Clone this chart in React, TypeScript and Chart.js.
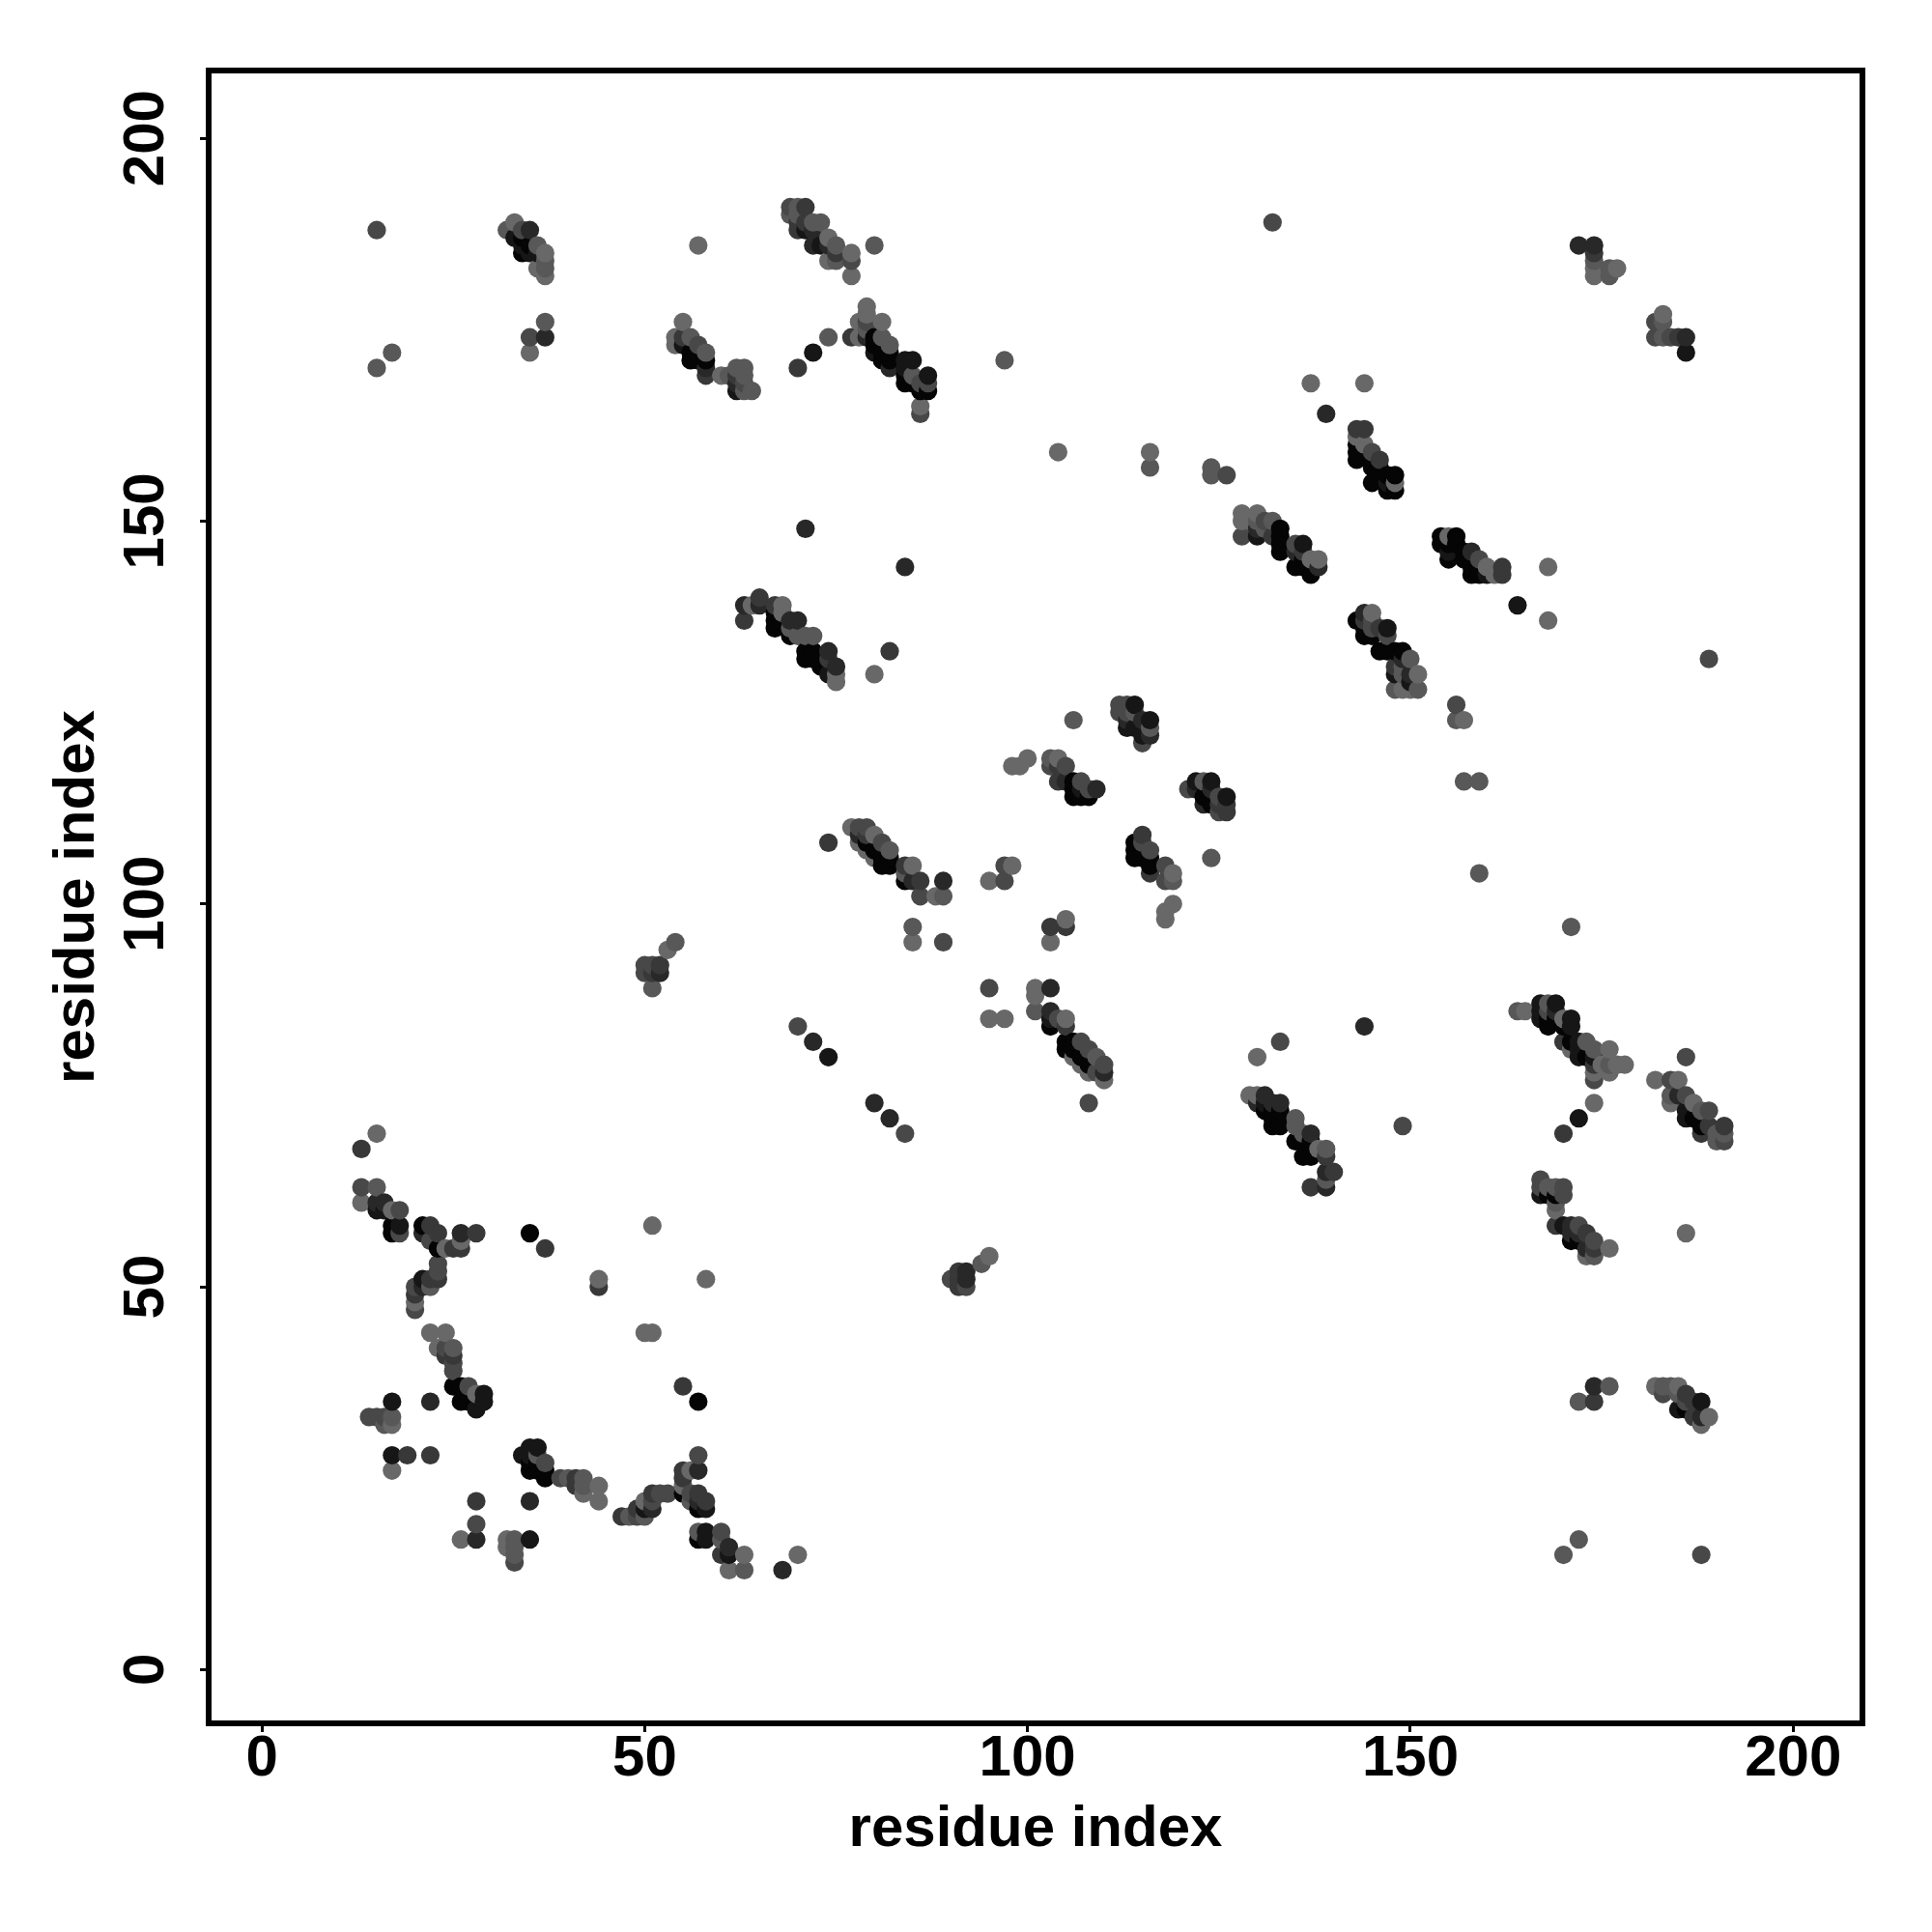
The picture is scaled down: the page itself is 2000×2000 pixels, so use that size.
import React, { useEffect, useRef } from "react";
import { Chart, registerables } from "chart.js";

Chart.register(...registerables);

type Contact = [number, number, number];

const axisTicks = [0, 50, 100, 150, 200];
const axisTitle = "residue index";
const shadeLevels = ["#050505", "#161616", "#282828", "#383838", "#484848", "#585858", "#686868"];

const lowerLeftA: Contact[] = [
  [13,68,3],[15,70,6],[13,63,4],[15,63,5],[13,61,6],[15,61,2],[16,61,2],[15,60,1],[16,60,1],[17,60,6],[18,60,4],
  [17,58,0],[18,58,1],[17,57,0],[18,57,4],[21,58,0],[22,58,3],[21,57,2],[23,57,3],[22,56,4],[23,55,0],[24,55,6],
  [25,55,3],[26,55,3],[26,56,6],[26,57,2],[28,57,3],[35,57,0],[37,55,3],[44,51,6],[44,50,3],[23,53,4],[23,52,4],
  [23,51,3],[22,51,3],[21,51,1],[22,50,5],[20,50,4],[21,50,2],[20,49,3],[20,48,6],[20,47,4],[22,44,6],[24,44,6],
  [23,42,6],[24,42,4],[25,42,5],[24,41,3],[25,41,3],[25,40,4],[25,39,4],[25,37,0],[26,37,0],[27,37,4],[27,36,0],
  [28,36,6],[29,36,1],[26,35,0],[27,35,0],[29,35,1],[28,34,1],[17,35,1],[22,35,2],[14,33,4],[15,33,4],[16,33,4],
  [17,33,5],[16,32,5],[17,32,6],[51,58,6],[58,51,6],[50,44,6],[51,44,6],
];
const lowerLeftB: Contact[] = [
  [17,28,1],[19,28,3],[22,28,3],[17,26,6],[28,22,3],[35,22,2],[28,19,4],[28,17,2],[26,17,6],[35,17,1],[32,17,6],
  [33,17,5],[32,16,6],[33,16,5],[33,15,5],[33,14,4],[34,28,1],[35,29,1],[36,29,1],[35,28,1],[36,28,5],[37,27,4],
  [35,27,0],[36,27,0],[35,26,0],[36,26,0],[37,26,0],[37,25,0],[39,25,4],[40,25,5],[41,25,3],[42,25,5],[41,24,3],
  [42,24,5],[42,23,6],[44,24,6],[44,22,6],[47,20,3],[48,20,5],[49,20,4],[50,20,5],[49,21,3],[50,21,1],[51,21,2],
  [50,22,6],[51,22,4],[51,23,3],[52,23,4],[53,23,4],[55,37,3],[57,35,0],[57,28,4],[55,26,3],[56,26,6],[57,26,2],
  [55,25,3],[55,24,6],[55,23,0],[56,23,4],[57,23,3],[56,22,5],[57,22,2],[58,22,3],[57,21,0],[58,21,1],[57,18,5],
  [58,18,1],[60,18,4],[57,17,0],[58,17,1],[60,17,5],[60,15,3],[61,16,2],[61,15,1],[63,15,6],[61,13,6],[63,13,5],
  [68,13,2],[70,15,6],
];
const midLeftPairs: Contact[] = [
  [50,92,4],[51,92,4],[52,92,3],[50,91,4],[51,91,3],[52,91,2],[51,89,5],[53,94,6],[54,95,5],
  [90,51,4],[91,52,3],[92,52,2],[91,51,3],[92,51,2],[91,50,3],[92,50,4],[94,53,5],[95,54,6],
  [70,84,4],[72,82,2],[74,80,1],[80,74,2],[82,72,2],[84,70,4],
];
const topLeft: Contact[] = [
  [15,188,4],[15,170,5],[17,172,5],[32,188,5],[33,189,6],[34,188,4],[35,188,2],[33,187,1],[34,187,0],[34,186,1],
  [34,185,0],[35,186,0],[35,185,1],[36,186,5],[37,185,6],[36,185,1],[37,184,5],[36,183,6],[37,183,5],[37,182,6],
  [37,176,5],[37,174,2],[35,174,4],[35,172,6],[57,186,6],[69,191,4],[70,191,5],[71,191,3],[69,190,5],[70,190,5],
  [70,189,3],[71,189,3],[72,189,5],[73,189,5],[70,188,3],[71,188,1],[72,188,2],[74,187,6],[72,186,2],[73,186,1],
  [74,186,2],[75,186,5],[74,184,6],[75,184,5],[75,185,3],[77,185,6],[77,184,4],[77,182,6],[80,186,5],
];
const topMiddle: Contact[] = [
  [55,176,6],[54,174,6],[54,173,6],[55,174,3],[56,174,5],[55,173,1],[57,173,4],[56,172,0],[58,172,5],[56,171,0],
  [57,171,0],[58,171,0],[58,170,2],[58,169,3],[60,169,6],[61,169,5],[62,170,5],[63,170,5],[62,169,3],[63,169,5],
  [62,168,2],[63,168,4],[62,167,1],[63,167,5],[64,167,5],[70,170,3],[72,172,1],[74,174,5],[77,174,3],[78,176,6],
  [78,174,6],[79,178,6],[79,177,6],[79,176,4],[79,175,5],[81,176,6],[79,174,2],[80,174,0],[81,174,5],[80,173,0],
  [82,173,5],[80,172,1],[81,172,0],[82,172,0],[81,171,0],[82,171,0],[82,170,2],[84,171,1],[85,171,1],[84,170,1],
  [84,169,0],[85,169,5],[84,168,0],[85,168,0],[87,169,1],[86,168,4],[87,168,4],[86,167,0],[87,167,0],[86,165,6],
  [86,164,4],[97,171,5],
];
const middleBand: Contact[] = [
  [63,139,2],[63,137,3],[64,139,6],[65,140,3],[65,139,2],[67,139,3],[68,139,6],[68,138,6],[67,138,0],[67,137,0],
  [67,136,0],[68,137,0],[69,137,2],[70,137,2],[69,136,5],[69,135,0],[70,135,5],[71,135,5],[72,135,5],[71,133,0],
  [71,132,0],[72,133,0],[72,132,0],[73,131,0],[74,133,2],[74,132,3],[74,130,1],[75,131,2],[75,130,6],[75,129,6],
  [82,133,3],[80,130,6],[84,144,2],[71,149,2],[74,108,3],[77,110,6],[78,110,4],[79,110,4],[78,109,2],[79,109,3],
  [80,109,6],[78,108,6],[79,108,0],[81,108,4],[79,107,6],[80,107,0],[82,107,5],[80,106,6],[81,106,0],[82,106,0],
  [81,105,0],[82,105,0],[84,105,3],[85,105,6],[84,104,5],[84,103,0],[85,103,2],[86,103,3],[89,103,2],[86,101,4],
  [88,101,6],[89,101,5],[85,97,5],[85,95,6],[89,95,4],[95,103,6],[97,103,4],[97,105,4],[98,105,6],[103,97,3],
  [105,97,3],[105,98,6],[103,95,6],[95,89,4],[101,89,6],[103,89,2],[101,88,6],[101,86,5],[95,85,6],[97,85,6],
];
const centerLower: Contact[] = [
  [103,86,2],[103,85,1],[103,84,0],[104,85,4],[105,85,6],[105,84,3],[105,82,0],[105,81,0],[106,82,0],[107,82,4],
  [106,81,0],[108,81,4],[106,80,6],[107,80,0],[109,80,5],[107,79,6],[108,79,0],[110,79,4],[108,78,6],[109,78,4],
  [110,78,2],[110,77,6],[108,74,4],[133,82,4],[130,80,6],[144,84,2],[129,75,6],[130,75,6],[131,75,2],[130,74,2],
  [131,74,1],[132,74,2],[133,74,2],[131,73,0],[132,73,0],[133,73,0],[132,72,0],[133,72,0],[132,71,0],[133,71,0],
  [135,72,5],[135,71,5],[135,69,0],[136,70,5],[137,70,2],[136,69,0],[137,69,0],[136,67,0],[137,67,0],[138,68,6],
  [139,68,5],[139,67,3],[139,65,2],[140,65,3],[139,64,5],[139,63,2],[137,63,3],[149,71,4],
];
const centerUpper: Contact[] = [
  [106,124,5],[112,126,4],[113,126,4],[114,126,1],[112,125,4],[113,125,4],[114,125,5],[113,124,2],[113,123,1],
  [114,123,1],[115,124,2],[116,124,1],[116,123,5],[115,122,1],[116,122,2],[115,121,4],[98,118,6],[99,118,6],
  [100,119,6],[103,119,5],[104,119,6],[103,118,4],[104,118,3],[105,118,4],[104,116,3],[105,116,2],[106,116,0],
  [107,116,4],[106,115,0],[107,115,1],[108,115,4],[109,115,2],[106,114,0],[107,114,0],[108,114,0],[121,115,4],
  [122,116,1],[123,116,5],[124,116,1],[122,115,2],[124,115,2],[123,114,0],[123,113,2],[124,113,0],[125,114,4],
  [126,114,1],[125,113,3],[126,113,3],[125,112,4],[126,112,3],[124,106,5],[115,109,3],[114,108,0],[115,108,4],
  [114,107,0],[116,107,4],[114,106,0],[115,106,0],[116,106,0],[116,105,0],[116,104,3],[118,105,4],[119,104,6],
  [118,103,4],[119,103,5],[119,100,6],[118,99,6],[118,98,6],
];
const upperRight: Contact[] = [
  [139,164,2],[137,168,6],[144,168,6],[126,156,4],[124,157,5],[124,156,5],[104,159,6],[116,159,6],[116,157,5],
  [143,162,3],[144,162,3],[143,161,6],[143,160,0],[144,160,6],[143,159,0],[144,159,0],[145,159,4],[143,158,0],
  [146,158,3],[145,157,0],[146,157,0],[146,156,0],[147,156,0],[148,156,0],[145,155,0],[147,155,1],[148,155,6],
  [147,154,0],[148,154,0],[128,151,6],[130,151,6],[128,150,6],[129,150,6],[130,150,5],[131,150,4],[132,150,5],
  [130,149,2],[131,149,5],[133,149,0],[128,148,4],[130,148,1],[132,148,3],[133,148,0],[133,147,0],[135,147,4],
  [136,147,1],[133,146,0],[135,146,2],[136,146,3],[136,145,0],[137,145,6],[138,145,6],[135,144,0],[136,144,0],
  [138,144,2],[137,143,0],[132,189,4],
];
const rightBandA: Contact[] = [
  [154,148,0],[155,148,6],[156,148,0],[154,147,0],[155,147,0],[156,147,0],[155,146,1],[157,146,0],[158,146,2],
  [155,145,0],[157,145,0],[159,145,4],[158,144,0],[159,144,0],[160,144,6],[162,144,3],[158,143,0],[159,143,0],
  [160,143,1],[161,143,6],[162,143,3],[164,139,1],[168,144,6],[168,137,6],[143,137,0],[144,138,2],[145,138,6],
  [144,137,3],[145,137,4],[144,136,0],[145,136,4],[146,136,3],[147,136,1],[144,135,0],[145,135,0],[147,135,4],
  [146,133,0],[147,133,0],[148,133,0],[149,133,0],[149,132,2],[150,132,5],[148,131,3],[149,131,5],[148,130,1],
  [149,130,5],[150,130,2],[151,130,6],[150,129,1],[148,128,5],[149,128,6],[150,128,6],[151,128,5],[156,126,4],
  [156,124,5],[157,124,6],[157,116,5],[159,116,5],[159,104,5],[189,132,4],[171,97,5],
];
const topRight: Contact[] = [
  [172,186,2],[174,186,2],[174,185,3],[174,184,5],[174,183,6],[174,182,6],[176,183,5],[177,183,6],[176,182,5],
  [182,176,4],[183,177,6],[183,176,5],[182,174,4],[183,174,5],[184,174,4],[185,174,3],[186,174,2],[186,172,1],
];
const lowerRightA: Contact[] = [
  [164,86,5],[165,86,6],[167,87,1],[168,87,5],[169,87,1],[167,86,1],[168,86,4],[169,86,2],[167,85,1],[168,85,0],
  [169,85,0],[170,85,6],[171,85,1],[168,84,0],[170,84,0],[171,84,1],[170,82,3],[171,82,0],[172,82,1],[173,82,5],
  [171,81,6],[172,81,1],[174,81,5],[176,81,6],[172,80,1],[173,80,0],[174,80,1],[174,79,3],[175,79,6],[176,79,5],
  [177,79,6],[178,79,6],[174,78,6],[176,78,6],[174,77,4],[174,74,6],[172,72,1],[170,70,3],[186,80,4],[182,77,6],
  [184,77,4],[185,77,6],[184,75,5],[185,75,2],[186,75,4],[184,74,6],[187,74,6],[186,73,1],[188,73,5],[189,73,4],
  [186,72,1],[187,72,0],[188,71,0],[189,71,3],[191,71,3],[188,70,3],[190,70,5],[191,70,5],[190,69,5],[191,69,4],
];
const lowerRightB: Contact[] = [
  [167,64,4],[167,63,4],[168,63,5],[169,63,5],[170,63,4],[167,62,1],[168,62,0],[169,62,0],[170,62,4],[169,61,5],
  [169,60,6],[169,58,3],[170,58,1],[171,58,2],[172,58,4],[171,57,2],[172,57,2],[173,57,3],[171,56,0],[172,56,0],
  [174,56,4],[173,55,2],[174,55,3],[176,55,6],[173,54,6],[174,54,5],[186,57,6],[174,37,2],[176,37,5],[172,35,5],
  [174,35,3],[170,15,5],[172,17,5],[188,15,4],[182,37,6],[183,37,5],[184,37,5],[185,37,6],[183,36,4],[185,36,5],
  [186,36,3],[185,34,1],[186,34,0],[186,35,4],[187,35,3],[188,35,1],[187,33,3],[188,33,2],[189,33,6],[188,32,6],
];

const contacts: Contact[] = [
  ...lowerLeftA, ...lowerLeftB, ...midLeftPairs, ...topLeft, ...topMiddle, ...middleBand, ...centerLower,
  ...centerUpper, ...upperRight, ...rightBandA, ...topRight, ...lowerRightA, ...lowerRightB,
].sort((a, b) => a[0] - b[0] || a[1] - b[1]);

export default function App() {
  const ref = useRef<HTMLCanvasElement>(null);
  useEffect(() => {
    const frame = {
      id: "frame",
      afterDraw(c: any) {
        const { left, top, right, bottom } = c.chartArea;
        const ctx = c.ctx;
        ctx.save();
        ctx.strokeStyle = "#000";
        ctx.lineWidth = 6;
        ctx.lineJoin = "miter";
        ctx.strokeRect(left, top, right - left, bottom - top);
        ctx.restore();
      },
    };
    const font = { family: "'Liberation Sans', Arial, sans-serif", weight: "bold" as const };
    const chart = new Chart(ref.current!, {
      type: "scatter",
      data: {
        datasets: [
          {
            data: contacts.map(([x, y]) => ({ x, y })),
            backgroundColor: contacts.map((p) => shadeLevels[p[2]]),
            borderWidth: 0,
            pointRadius: 9.6,
            pointHoverRadius: 9.6,
          },
        ],
      },
      options: {
        animation: false,
        responsive: false,
        layout: { padding: { left: 0, top: 73, right: 72, bottom: 0 } },
        plugins: { legend: { display: false }, tooltip: { enabled: false } },
        scales: {
          x: {
            type: "linear",
            min: -6.95,
            max: 209.05,
            afterBuildTicks: (s: any) => { s.ticks = axisTicks.map((value) => ({ value })); },
            afterFit: (s: any) => { s.height = 216; },
            grid: { drawOnChartArea: false, tickLength: 9, tickWidth: 3, tickColor: "#000" },
            border: { display: false },
            ticks: { color: "#000", padding: -7.5, maxRotation: 0, autoSkip: false, font: { ...font, size: 60 } },
            title: { display: true, text: axisTitle, color: "#000", padding: { top: 0, bottom: 69.5 }, font: { ...font, size: 60 } },
          },
          y: {
            type: "linear",
            min: -7.01,
            max: 208.84,
            afterBuildTicks: (s: any) => { s.ticks = axisTicks.map((value) => ({ value })); },
            afterFit: (s: any) => { s.width = 216; },
            grid: { drawOnChartArea: false, tickLength: 9, tickWidth: 3, tickColor: "#000" },
            border: { display: false },
            ticks: { color: "#000", padding: 4, minRotation: 90, maxRotation: 90, crossAlign: "center", autoSkip: false, font: { ...font, size: 60 } },
            title: { display: true, text: axisTitle, color: "#000", padding: { top: 44, bottom: 0 }, font: { ...font, size: 60 } },
          },
        },
      },
      plugins: [frame],
    } as any);
    return () => chart.destroy();
  }, []);
  return (
    <div style={{ position: "absolute", left: 0, top: 0, width: 2000, height: 2000, background: "#fff" }}>
      <canvas ref={ref} width={2000} height={2000} style={{ display: "block", width: 2000, height: 2000 }} />
    </div>
  );
}
